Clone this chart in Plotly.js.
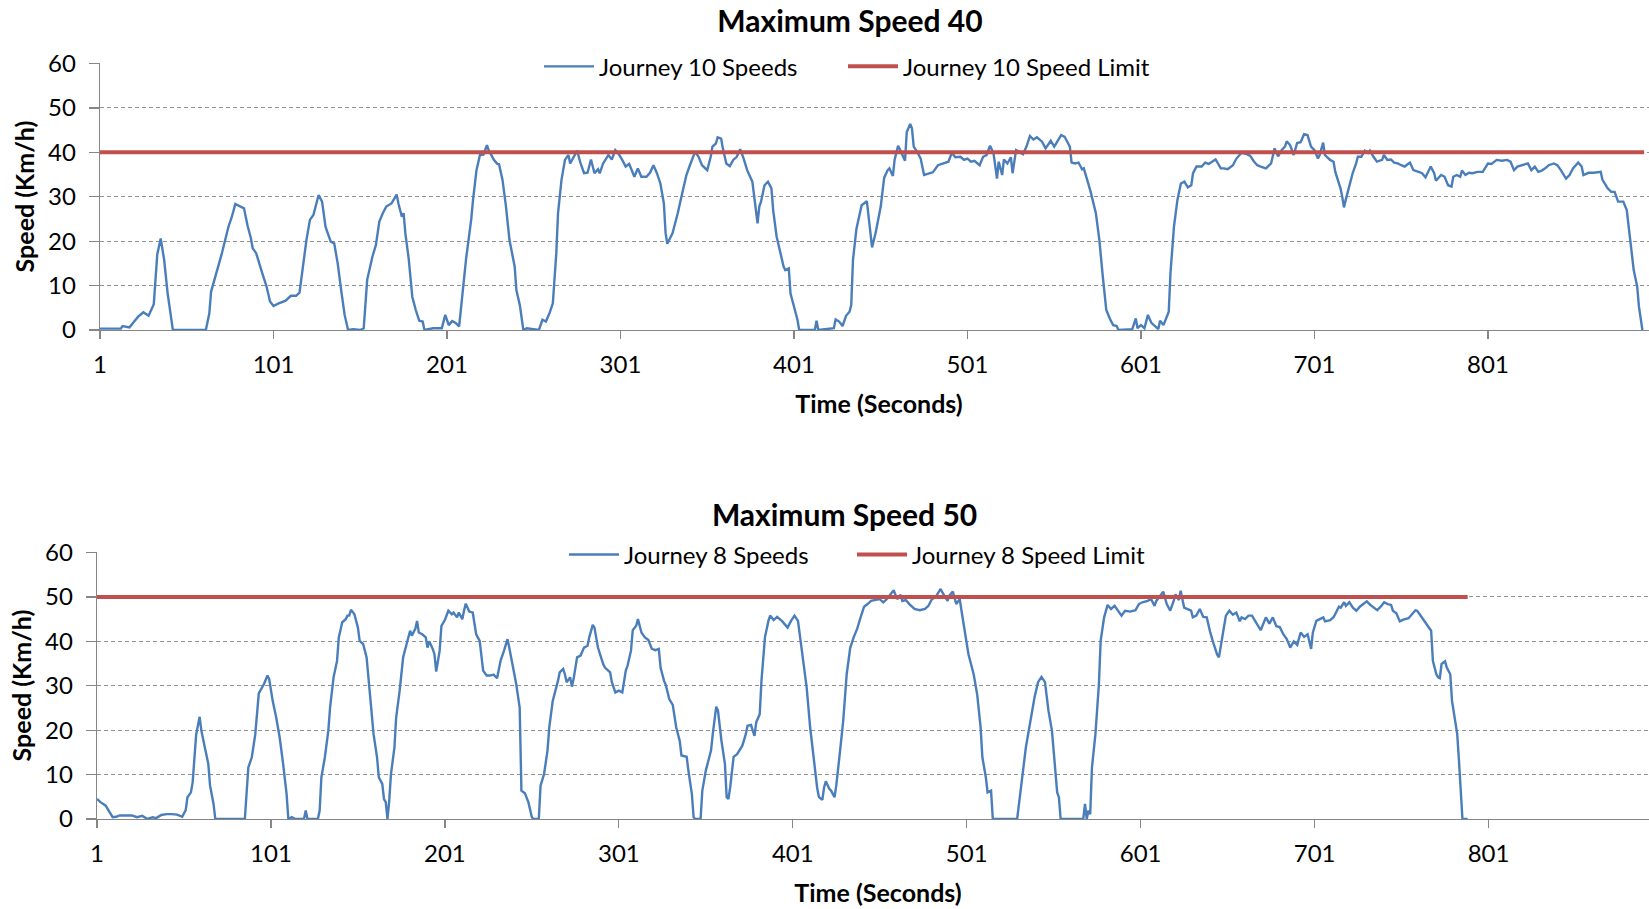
<!DOCTYPE html>
<html>
<head>
<meta charset="utf-8">
<script src="https://cdn.plot.ly/plotly-3.0.1.min.js"></script>
<style>
html,body{margin:0;padding:0;background:#fff;overflow:hidden;width:1649px;height:909px}
.chart{position:absolute;left:0;width:1700px}
#chartTop{top:0;height:455px}
#chartBottom{top:455px;height:454px}
</style>
</head>
<body>
<div id="chartTop" class="chart"></div>
<div id="chartBottom" class="chart"></div>
<script>
// ────── data ──────
const xTicks=[1,101,201,301,401,501,601,701,801];

const j10Time=[1,13,14,18,20,23,26,29,32,34,36,38,40,41,43,62,64,65,68,71,75,77,79,82,84,86,88,89,91,95,97,99,101,104,108,111,114,116,118,120,122,124,127,129,131,134,136,138,140,142,144,147,151,153,155,158,160,162,164,166,169,172,173,175,176,177,179,181,183,185,187,188,193,198,200,202,204,206,208,210,212,215,216,218,220,222,224,225,228,230,231,233,235,237,238,240,241,243,245,247,254,256,258,260,262,264,265,267,269,271,272,274,276,278,280,282,284,286,288,289,291,294,296,298,300,302,304,306,309,311,313,316,318,320,322,324,326,327,328,331,334,337,339,341,344,346,348,351,353,354,356,357,359,360,362,364,366,368,370,372,374,377,378,380,381,382,384,386,388,389,391,393,395,396,398,399,401,403,404,413,414,415,424,425,427,429,431,433,434,435,437,439,440,443,444,446,448,451,453,455,456,458,459,461,462,465,466,468,469,470,472,474,476,479,481,484,487,490,492,494,497,499,501,503,505,508,510,512,514,516,518,519,521,522,524,526,527,529,531,533,535,537,539,541,544,546,549,551,555,557,560,561,563,565,567,568,570,572,575,577,579,581,583,585,587,588,596,598,599,601,603,605,607,609,611,612,614,617,618,620,622,624,626,628,630,631,633,636,638,640,642,644,647,649,651,654,656,659,662,664,666,668,670,673,676,678,680,682,684,685,687,689,691,693,695,697,699,701,703,704,706,707,710,712,713,715,716,717,718,719,721,723,725,726,728,730,732,733,735,737,740,741,743,745,747,749,751,753,756,758,761,763,765,766,768,770,771,774,776,778,780,781,783,785,786,788,790,792,795,798,801,803,806,809,812,814,816,818,821,824,826,828,830,832,834,836,839,841,843,846,848,850,853,855,856,859,862,866,867,870,872,874,876,879,881,883,885,887,888,890];
const j10Speed=[0.3,0.3,0.9,0.6,1.6,3.0,4.0,3.2,5.8,17.0,20.6,15.7,8.2,5.6,0,0,3.7,8.6,12.7,16.9,23.2,25.5,28.4,27.8,27.4,23.6,20.6,18.4,17.3,12.2,9.8,6.4,5.4,6.0,6.6,7.7,7.7,8.4,14.3,20.3,24.8,25.9,30.4,28.9,23.2,19.9,19.5,15.0,9.0,3.4,0,0.2,0,0.4,11.3,16.5,19.1,24.4,26.3,27.8,28.5,30.5,28.5,25.5,26.3,21.8,15.8,7.5,4.5,2.1,1.9,0,0.4,0.4,3.4,1.1,2.0,1.6,0.8,8.6,16.0,25.0,29.3,36.0,39.4,39.5,41.6,40.5,38.3,37.4,37.3,33.8,27.8,20.3,18.4,14.3,9.0,5.6,0,0.4,0,2.3,1.9,3.7,6.0,17.3,26.3,33.8,38.3,39.4,37.5,39.0,40.4,37.5,35.3,35.4,38.4,35.3,36.2,35.3,37.5,39.4,38.4,40.5,39.6,38.3,36.8,37.4,34.5,36.4,34.5,34.5,35.4,37.1,35.3,33.0,28.5,21.8,19.4,21.8,26.3,31.5,34.9,37.1,40.1,39.0,37.1,36.0,39.0,41.3,42.0,43.4,43.1,40.9,37.5,36.9,38.3,39.0,40.7,38.6,36.0,33.4,30.0,24.0,27.8,28.9,32.6,33.4,31.9,27.0,21.0,17.3,14.3,13.5,13.9,8.2,5.3,2.3,0,0,2.1,0,0.4,2.4,1.9,0.9,3.2,4.1,5.6,15.8,22.8,26.8,28.1,29.0,25.5,18.6,21.8,27.8,34.3,36.0,36.4,34.7,38.3,41.5,40.7,38.1,44.6,46.4,45.4,41.3,40.1,38.6,34.9,35.3,35.5,37.1,37.5,37.9,39.9,38.9,39.0,38.3,38.6,37.9,38.1,37.1,39.0,39.4,41.5,39.8,34.1,37.9,34.9,38.4,37.5,38.9,35.3,40.5,40.1,39.6,41.3,43.7,42.9,43.4,42.4,40.9,42.6,41.3,43.9,43.5,41.3,37.7,37.5,37.7,36.2,36.4,33.8,31.1,26.3,20.3,12.0,4.5,2.6,1.1,0.9,0,0.2,2.6,0.4,1.1,0.4,3.4,1.6,0.9,0.2,2.1,1.1,4.1,12.8,23.2,29.3,33.0,33.4,32.1,32.6,35.3,36.8,36.8,37.7,37.4,37.9,38.4,36.4,36.4,36.2,37.1,38.6,39.9,39.6,39.2,38.0,37.1,36.8,36.4,37.5,40.9,39.1,40.5,41.3,42.5,41.6,39.4,42.1,42.3,44.1,43.9,41.3,40.5,38.6,39.4,42.2,39.4,38.3,37.9,35.6,33.0,31.9,30.0,27.6,29.3,32.6,35.3,37.5,39.0,39.0,40.4,39.9,40.4,39.0,37.9,38.3,39.4,38.3,38.4,37.7,37.5,37.1,36.8,37.7,36.0,35.6,35.3,34.4,35.3,36.8,35.3,33.6,34.9,34.5,32.6,32.3,34.5,34.9,34.5,35.9,34.9,35.4,35.3,35.6,35.6,37.5,37.4,38.3,38.1,38.3,37.9,36.0,36.8,37.1,37.5,36.0,36.8,35.6,35.9,36.4,37.1,37.5,37.1,36.0,34.1,34.9,36.4,37.7,36.8,34.9,35.4,35.4,35.6,33.8,31.9,31.1,31.1,28.9,28.9,27.0,20.3,13.5,9.8,5.3,0];
const j10LimitTime=[1,891];
const j10Limit=[40,40];

const j8Time=[1,3,6,8,10,12,14,21,24,27,30,33,35,38,41,44,47,50,52,53,55,56,57,58,60,61,63,65,66,68,69,86,88,90,92,94,97,99,100,102,104,106,108,110,111,113,115,120,121,122,128,129,130,132,134,135,137,139,140,142,144,145,146,147,149,151,152,154,156,158,160,162,163,165,166,167,168,169,170,172,173,175,177,179,181,182,184,185,186,188,190,191,192,194,195,196,198,199,201,203,205,206,208,209,211,212,213,215,217,219,221,223,225,227,229,231,233,235,237,238,240,242,244,245,247,249,251,252,255,256,258,260,261,263,266,267,269,270,271,273,274,275,277,279,281,283,284,286,287,289,292,293,296,297,299,301,303,305,306,308,309,311,312,314,316,318,320,322,324,325,327,328,330,332,334,336,337,340,341,343,344,345,348,349,351,354,355,357,358,360,362,363,364,365,367,369,372,374,375,377,378,379,380,382,383,385,387,388,390,392,395,398,400,402,404,405,407,409,411,413,415,416,418,419,420,422,423,425,426,428,430,432,434,436,438,440,442,444,446,448,451,453,455,457,459,461,463,464,466,468,471,474,477,479,481,483,486,487,490,491,493,495,497,498,500,502,505,507,509,510,512,513,515,516,530,532,535,538,540,542,544,546,548,550,552,553,554,555,568,569,570,571,572,573,575,577,578,580,582,584,586,588,590,592,595,598,600,602,605,607,609,610,612,614,616,618,620,621,623,624,626,628,630,631,633,635,637,639,641,643,645,646,648,650,652,654,656,658,659,661,663,665,668,670,673,675,677,679,681,683,685,687,689,691,693,695,697,699,700,702,704,706,707,710,712,714,715,716,718,719,721,723,725,727,729,731,733,735,737,739,741,743,745,746,748,750,752,755,757,759,760,762,764,766,768,769,771,772,773,774,776,777,779,780,782,783,784,785,786,789];
const j8Speed=[4.5,3.8,3.0,1.7,0.4,0.5,0.8,0.8,0.4,0.7,0,0.4,0.2,0.9,1.1,1.1,1.0,0.5,2.0,4.9,6.0,8.3,13.0,19.0,23.0,19.9,16.1,12.4,7.5,3.4,0,0,11.6,13.9,19.1,28.3,30.4,32.3,31.5,26.6,22.9,18.4,12.4,5.6,0,0.4,0,0,1.9,0,0,1.9,9.4,13.9,19.9,25.1,31.9,35.6,40.9,44.3,45.0,45.8,45.8,47.1,46.1,43.1,40.1,39.4,36.4,28.1,19.1,13.9,9.4,7.9,4.5,3.8,0,4.1,10.1,16.1,22.9,28.9,36.4,39.4,42.4,41.3,42.8,44.6,42.0,41.6,40.9,38.6,40.0,38.3,37.1,33.2,37.9,43.5,44.8,46.9,46.1,46.5,45.4,46.5,45.0,46.9,48.5,46.7,46.5,41.6,40.1,33.4,32.3,32.3,32.5,31.7,35.6,37.9,40.5,38.6,34.9,30.4,25.1,6.4,5.8,3.8,0.4,0,0,7.5,10.1,15.4,20.6,26.6,31.1,33.0,33.8,32.6,30.8,31.9,29.8,31.5,36.4,36.8,38.6,39.0,40.9,43.7,43.1,38.6,34.9,34.1,33.0,30.8,28.5,28.9,28.5,33.4,34.5,37.9,42.5,43.5,45.0,42.0,40.9,40.3,38.3,38.0,38.3,34.1,31.1,30.2,27.0,25.7,20.6,17.6,14.3,14.0,10.9,5.6,0.4,0,0,6.4,10.9,15.4,19.1,25.3,24.4,17.6,12.4,4.9,4.5,7.1,14.0,14.6,16.5,19.1,21.0,21.2,19.9,18.7,21.8,23.6,31.1,40.9,44.6,45.8,44.8,45.5,44.5,43.1,44.6,45.8,44.6,41.6,36.4,29.6,20.6,13.1,7.1,5.0,4.3,7.1,8.5,6.8,6.4,4.9,7.5,14.6,22.1,32.6,38.5,40.9,42.8,45.4,47.8,48.4,49.1,49.3,49.5,48.8,49.5,50.5,51.5,49.5,50.5,49.1,49.3,48.4,47.3,47.0,47.3,48.0,49.5,49.9,51.8,51.0,49.1,50.3,51.2,48.4,49.5,46.9,41.6,37.1,32.6,28.1,20.6,13.9,9.4,6.0,6.4,0,0,6.4,16.1,22.9,27.4,30.8,32.0,30.8,24.4,19.9,11.6,6.0,4.9,0,0,3.4,0,1.9,1.1,11.6,19.1,30.4,40.1,45.4,48.2,47.3,48.0,46.9,45.8,46.9,46.7,47.0,48.4,48.8,49.1,49.5,48.0,49.1,50.3,51.2,48.4,46.9,49.1,50.6,49.3,51.4,47.6,47.3,46.9,45.4,45.8,47.3,45.5,45.4,42.0,39.4,37.0,36.4,41.6,45.8,46.9,46.0,46.5,44.5,45.4,45.0,45.8,45.8,43.8,42.5,45.4,44.0,45.4,43.4,43.2,41.6,40.5,38.6,40.0,39.2,42.0,41.0,41.6,38.3,42.0,44.6,45.0,45.4,44.5,44.8,45.5,46.9,47.8,47.6,48.8,48.0,48.8,47.6,46.9,47.8,48.4,49.0,48.2,47.5,47.0,47.8,48.8,48.4,48.2,46.9,46.3,44.5,44.9,45.2,46.1,47.0,46.9,45.8,44.6,43.5,42.4,35.6,32.6,31.9,31.7,34.9,35.5,34.1,32.6,26.6,22.1,19.1,13.1,6.4,0,0];
const j8LimitTime=[1,789];
const j8Limit=[50,50];

// ────── styles ──────
const FONT='Lato, "Open Sans", sans-serif';
const BLUE='#4a7ebb';
const RED='#c0504d';
const AXIS='#868686';
const GRID='#939393';

function xAxis(){
  return {
    range:[1,899],tickmode:'array',tickvals:xTicks,ticktext:xTicks.map(String),
    ticks:'outside',ticklen:8,tickcolor:AXIS,tickwidth:1.3,
    showline:true,linecolor:AXIS,linewidth:1.3,
    showgrid:false,zeroline:false,
    tickfont:{family:FONT,size:24,color:'#000'},
    ticklabelstandoff:5,
    title:{text:'Time (Seconds)',font:{family:FONT,size:25,weight:700,color:'#000'},standoff:18}
  };
}
function yAxis(){
  // a hair above 60 so the top dashed gridline is kept
  return {
    range:[0,60.12],dtick:10,
    ticks:'outside',ticklen:10,tickcolor:AXIS,tickwidth:1.3,
    showline:true,linecolor:AXIS,linewidth:1.3,
    showgrid:true,gridcolor:GRID,gridwidth:1,griddash:'4px,3px',
    zeroline:false,
    tickfont:{family:FONT,size:24,color:'#000'},
    ticklabelstandoff:8,
    title:{text:'Speed (Km/h)',font:{family:FONT,size:25,weight:700,color:'#000'},standoff:6}
  };
}
function speedTrace(name,x,y,lw){
  return {type:'scatter',mode:'lines',name,x,y,legendwidth:lw,line:{color:BLUE,width:2.4}};
}
function limitTrace(name,x,y,lw){
  return {type:'scatter',mode:'lines',name,x,y,legendwidth:lw,line:{color:RED,width:4}};
}

function renderChart(id,opt){
  const layout={
    width:1700,height:opt.height,
    paper_bgcolor:'#fff',plot_bgcolor:'#fff',
    margin:opt.margin,
    font:{family:FONT,color:'#000'},
    title:{text:opt.title,x:opt.titleX,xref:'container',xanchor:'center',
      y:opt.titleY,yref:'container',yanchor:'middle',
      font:{family:FONT,size:30,weight:700,color:'#000'}},
    showlegend:true,
    legend:{orientation:'h',x:opt.legendX,xanchor:'left',y:opt.legendY,yanchor:'middle',
      itemwidth:50,bgcolor:'#fff',font:{family:FONT,size:24,color:'#000'}},
    xaxis:xAxis(),
    yaxis:yAxis()
  };
  Plotly.newPlot(id,opt.traces,layout,{displayModeBar:false,staticPlot:true});
}

renderChart('chartTop',{
  height:455,
  margin:{l:100,r:42,t:63,b:125},
  title:'Maximum Speed 40',titleX:0.5,titleY:1-21/455,
  legendX:(539-100)/1558,legendY:0.986,
  traces:[
    speedTrace('Journey 10 Speeds',j10Time,j10Speed,239),
    limitTrace('Journey 10 Speed Limit',j10LimitTime,j10Limit,285)
  ]
});

renderChart('chartBottom',{
  height:454,
  margin:{l:97,r:41,t:97,b:90},
  title:'Maximum Speed 50',titleX:0.4968,titleY:1-60/454,
  legendX:(564-97)/1562,legendY:0.989,
  traces:[
    speedTrace('Journey 8 Speeds',j8Time,j8Speed,223),
    limitTrace('Journey 8 Speed Limit',j8LimitTime,j8Limit,270)
  ]
});
</script>
</body>
</html>
